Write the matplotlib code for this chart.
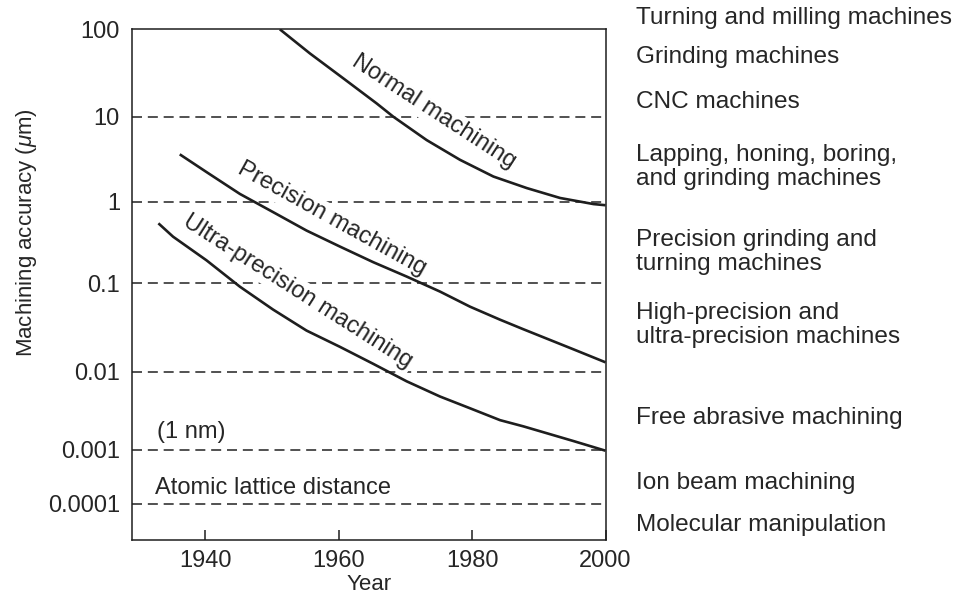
import numpy as np
import matplotlib.pyplot as plt
from matplotlib.ticker import FixedLocator, NullLocator

plt.rcParams['font.family'] = ['Liberation Sans', 'DejaVu Sans']
plt.rcParams['mathtext.fontset'] = 'custom'
plt.rcParams['mathtext.rm'] = 'Liberation Sans'
plt.rcParams['mathtext.it'] = 'Liberation Sans:italic'

# curves (year, accuracy in um)
normal_years = [1951.2, 1955.7, 1960.7, 1965.7, 1968.2, 1973.2, 1978.2, 1983.2, 1988.2, 1993.2, 1998.2, 2000]
normal_acc = [100, 53, 27.5, 14.2, 10, 5.3, 3.1, 1.97, 1.44, 1.1, 0.93, 0.9]

precision_years = [1936.2, 1940.3, 1945.2, 1950.2, 1955.2, 1960.2, 1965.2, 1970.2, 1975.2,
                   1979.7, 1984.2, 1987.7, 1995.2, 2000]
precision_acc = [3.6, 2.2, 1.23, 0.74, 0.44, 0.28, 0.18, 0.12, 0.080,
                 0.054, 0.0385, 0.030, 0.0178, 0.0127]

ultra_years = [1933.0, 1935.2, 1940.2, 1945.2, 1950.2, 1955.2, 1960.2, 1965.2, 1970.2,
               1975.2, 1979.7, 1984.2, 1987.7, 1995.2, 2000]
ultra_acc = [0.54, 0.37, 0.19, 0.091, 0.050, 0.029, 0.019, 0.0122, 0.0075,
             0.0048, 0.0034, 0.0024, 0.0020, 0.0013, 0.00097]

levels = [100, 10, 1, 0.1, 0.01, 0.001, 0.0001]
level_labels = ['100', '10', '1', '0.1', '0.01', '0.001', '0.0001']
year_ticks = [1940, 1960, 1980, 2000]

machine_labels = [
    'Turning and milling machines',
    'Grinding machines',
    'CNC machines',
    'Lapping, honing, boring,\nand grinding machines',
    'Precision grinding and\nturning machines',
    'High-precision and\nultra-precision machines',
    'Free abrasive machining',
    'Ion beam machining',
    'Molecular manipulation',
]
machine_label_px = [18, 57, 102, 167, 252, 325, 418, 483, 525]  # vertical centres, pixels from top

# the original axis is log-like but with uneven decades
knot_log = np.array([-4.66, -4, -3, -2, -1, 0, 1, 2])
knot_pos = 540 - np.array([540, 504, 450, 371.5, 283, 201.5, 116.7, 29.3])


def forward(v):
    v = np.clip(np.asarray(v, dtype=float), 1e-12, None)
    return np.interp(np.log10(v), knot_log, knot_pos)


def inverse(p):
    return 10 ** np.interp(p, knot_pos, knot_log)


W, H = 958, 597
fig = plt.figure(figsize=(W / 100, H / 100), dpi=100)
ax = fig.add_axes([131.7 / W, 1 - 540 / H, (605.5 - 131.7) / W, (540 - 29.3) / H])

ax.set_yscale('function', functions=(forward, inverse))
ax.set_ylim(10 ** -4.66, 100)
ax.set_xlim(1929, 2000)

ink = '#1e1e1e'
txt = '#262626'

for lv in levels[1:]:
    ax.axhline(lv, color='#333333', lw=1.2, dashes=(6, 3.5), zorder=2)

for yrs, acc in [(normal_years, normal_acc), (precision_years, precision_acc), (ultra_years, ultra_acc)]:
    ax.plot(yrs, acc, color=ink, lw=1.9, zorder=4, solid_capstyle='butt', solid_joinstyle='round')

box = dict(facecolor='white', edgecolor='none', pad=1.5)
ax.text(1974.3, 11.3, 'Normal machining', rotation=-33, rotation_mode='anchor',
        ha='center', va='center', fontsize=17, color=txt, bbox=box, zorder=3)
ax.text(1958.95, 0.61, 'Precision machining', rotation=-29, rotation_mode='anchor',
        ha='center', va='center', fontsize=17, color=txt, bbox=box, zorder=3)
ax.text(1953.9, 0.080, 'Ultra-precision machining', rotation=-32.5, rotation_mode='anchor',
        ha='center', va='center', fontsize=17, color=txt, bbox=box, zorder=3)
ax.text(1932.8, 0.0017, '(1 nm)', ha='left', va='center', fontsize=17, color=txt, zorder=3)
ax.text(1932.5, 0.0002, 'Atomic lattice distance', ha='left', va='center', fontsize=17,
        color=txt, bbox=box, zorder=3)

ax.yaxis.set_major_locator(FixedLocator(levels))
ax.yaxis.set_minor_locator(NullLocator())
ax.set_yticklabels(level_labels)
ax.set_xticks(year_ticks)
ax.tick_params(axis='y', length=0, pad=8.5, labelsize=17, labelcolor=txt)
ax.tick_params(axis='x', direction='in', length=7, width=1.1, pad=7, labelsize=17,
               labelcolor=txt, color=ink)

for sp in ax.spines.values():
    sp.set_linewidth(1.1)
    sp.set_color(ink)

ax.set_xlabel('Year', fontsize=16, color=txt, va='center')
ax.xaxis.set_label_coords(0.5, (540 - 584) / 510.7)
ax.set_ylabel(r'Machining accuracy ($\mu$m)', fontsize=16, color=txt, va='center')
ax.yaxis.set_label_coords((27 - 131.7) / 473.8, (540 - 233) / 510.7)

for label, py in zip(machine_labels, machine_label_px):
    fig.text(636 / W, 1 - py / H, label, ha='left', va='center', fontsize=17.6,
             color=txt, linespacing=1.1)

fig.savefig('out.png', dpi=100, facecolor='white')
